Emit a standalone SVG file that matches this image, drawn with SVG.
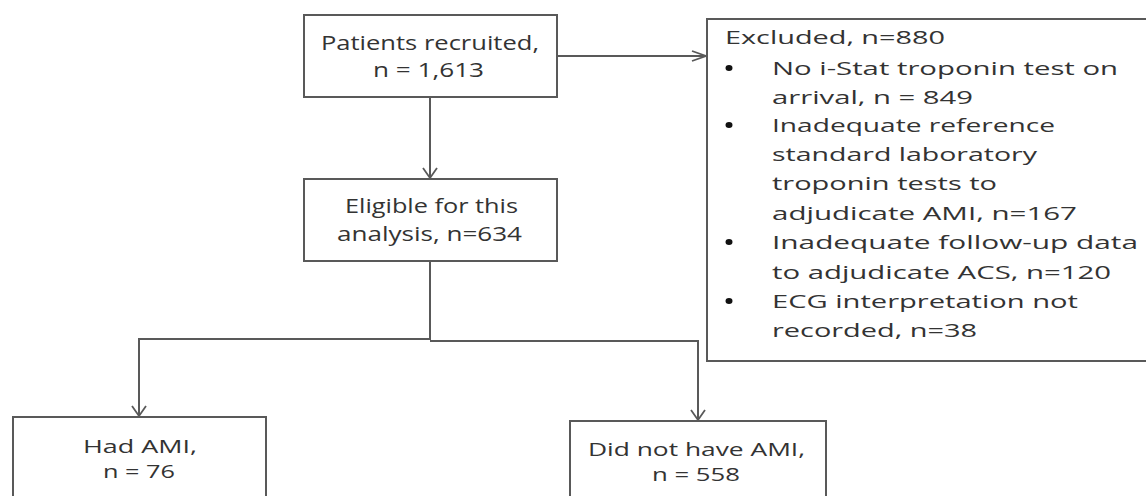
<svg xmlns="http://www.w3.org/2000/svg" width="1146" height="496" viewBox="0 0 1146 496">
  <defs>
    <style>
      .box { fill: #ffffff; stroke: #595959; stroke-width: 2; }
      .conn { fill: none; stroke: #595959; stroke-width: 2; }
      .t { font-family: "Open Sans", "Liberation Sans", sans-serif; font-size: 19.5px; fill: #333333; }
      .b { font-family: "Open Sans", "Liberation Sans", sans-serif; font-size: 18px; fill: #333333; }
      .s { font-family: "Open Sans", "Liberation Sans", sans-serif; font-size: 18px; fill: #333333; }
      .dot { fill: #111111; }
    </style>
    <marker id="arrDown" markerUnits="userSpaceOnUse" markerWidth="16" markerHeight="18" refX="12" refY="8" orient="auto" viewBox="0 0 16 16">
      <path d="M2,1 L12,8 L2,15" fill="none" stroke="#595959" stroke-width="1.8"/>
    </marker>
    <marker id="arrRight" markerUnits="userSpaceOnUse" markerWidth="18" markerHeight="14" refX="16" refY="7" orient="auto" viewBox="0 0 18 14">
      <path d="M2,2 L16,7 L2,12" fill="none" stroke="#595959" stroke-width="1.8"/>
    </marker>
  </defs>
  <rect width="1146" height="496" fill="#ffffff"/>

  <g id="connectors">
    <path class="conn" d="M430,97 L430,178" marker-end="url(#arrDown)"/>
    <path class="conn" d="M557,56 L706,56" marker-end="url(#arrRight)"/>
    <path class="conn" d="M430,261 L430,339 L139,339 L139,416" marker-end="url(#arrDown)"/>
    <path class="conn" d="M430,341 L698,341 L698,420" marker-end="url(#arrDown)"/>
  </g>

  <g id="node-recruited">
    <rect class="box" x="304" y="15" width="253" height="82"/>
    <text class="t" x="321" y="50" textLength="218" lengthAdjust="spacingAndGlyphs">Patients recruited,</text>
    <text class="t" x="373" y="77" textLength="111" lengthAdjust="spacingAndGlyphs">n = 1,613</text>
  </g>

  <g id="node-excluded">
    <rect class="box" x="707" y="19" width="450" height="342"/>
    <text class="s" x="725" y="44" textLength="220" lengthAdjust="spacingAndGlyphs">Excluded, n=880</text>
    <ellipse class="dot" cx="729" cy="68" rx="3.5" ry="3"/>
    <text class="s" x="772" y="75" textLength="346" lengthAdjust="spacingAndGlyphs">No i-Stat troponin test on</text>
    <text class="s" x="772" y="104" textLength="201" lengthAdjust="spacingAndGlyphs">arrival, n = 849</text>
    <ellipse class="dot" cx="729" cy="125" rx="3.5" ry="3"/>
    <text class="s" x="772" y="132" textLength="283" lengthAdjust="spacingAndGlyphs">Inadequate reference</text>
    <text class="s" x="772" y="161" textLength="265" lengthAdjust="spacingAndGlyphs">standard laboratory</text>
    <text class="s" x="772" y="190" textLength="225" lengthAdjust="spacingAndGlyphs">troponin tests to</text>
    <text class="s" x="772" y="220" textLength="305" lengthAdjust="spacingAndGlyphs">adjudicate AMI, n=167</text>
    <ellipse class="dot" cx="729" cy="242" rx="3.5" ry="3"/>
    <text class="s" x="772" y="249" textLength="366" lengthAdjust="spacingAndGlyphs">Inadequate follow-up data</text>
    <text class="s" x="772" y="279" textLength="339" lengthAdjust="spacingAndGlyphs">to adjudicate ACS, n=120</text>
    <ellipse class="dot" cx="729" cy="301" rx="3.5" ry="3"/>
    <text class="s" x="772" y="308" textLength="306" lengthAdjust="spacingAndGlyphs">ECG interpretation not</text>
    <text class="s" x="772" y="337" textLength="205" lengthAdjust="spacingAndGlyphs">recorded, n=38</text>
  </g>

  <g id="node-eligible">
    <rect class="box" x="304" y="179" width="253" height="82"/>
    <text class="t" x="345" y="213" textLength="173" lengthAdjust="spacingAndGlyphs">Eligible  for this</text>
    <text class="t" x="337" y="241" textLength="185" lengthAdjust="spacingAndGlyphs">analysis, n=634</text>
  </g>

  <g id="node-had-ami">
    <rect class="box" x="13" y="417" width="253" height="100"/>
    <text class="b" x="83" y="453" textLength="114" lengthAdjust="spacingAndGlyphs">Had AMI,</text>
    <text class="b" x="103" y="478" textLength="72" lengthAdjust="spacingAndGlyphs">n = 76</text>
  </g>

  <g id="node-no-ami">
    <rect class="box" x="570" y="421" width="256" height="100"/>
    <text class="b" x="588" y="456" textLength="217" lengthAdjust="spacingAndGlyphs">Did not have AMI,</text>
    <text class="b" x="652" y="481" textLength="88" lengthAdjust="spacingAndGlyphs">n = 558</text>
  </g>
</svg>
